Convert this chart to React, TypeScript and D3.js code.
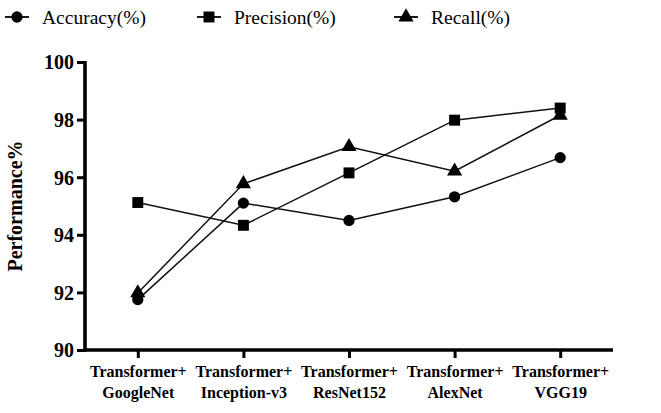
import React from 'react';
import * as d3 from 'd3';

const categories = ['GoogleNet', 'Inception-v3', 'ResNet152', 'AlexNet', 'VGG19'];
const accuracy = [91.75, 95.1, 94.5, 95.32, 96.68];
const precision = [95.12, 94.33, 96.15, 97.98, 98.4];
const recall = [91.98, 95.77, 97.06, 96.21, 98.15];
const yTicks = [90, 92, 94, 96, 98, 100];

const seriesNames = ['Accuracy(%)', 'Precision(%)', 'Recall(%)'];
const seriesShapes = [d3.symbolCircle, d3.symbolSquare, d3.symbolTriangle];
const seriesSizes = [100, 120, 100];

const font = 'Liberation Serif';

export default function App() {
    const container = React.useRef<SVGGElement>(null);

    const width = 661, height = 413;
    const margin = { top: 62, left: 85, right: 48, bottom: 63 };

    React.useEffect(() => {
        if (!container.current) return;
        const g = d3.select(container.current);
        g.selectAll('*').remove();

        const innerW = width - margin.left - margin.right;
        const innerH = height - margin.top - margin.bottom;

        const x = d3.scalePoint<string>().domain(categories).range([0, innerW]).padding(0.5);
        const y = d3.scaleLinear().domain([90, 100]).range([innerH, 0]);

        // y axis
        const yAxis = g.append('g')
            .call(d3.axisLeft(y).tickValues(yTicks).tickSize(8).tickSizeOuter(0).tickPadding(3));
        yAxis.attr('font-family', null).attr('font-size', null);
        yAxis.select('.domain').attr('stroke-width', 3.6).attr('d', `M0,${innerH + 1.8}V-1`);
        yAxis.selectAll('.tick line').attr('stroke-width', 3);
        yAxis.selectAll('.tick text')
            .attr('font-weight', 'bold').attr('font-size', 20).attr('fill', '#000').attr('dy', '0.34em');

        // x axis
        const xAxis = g.append('g')
            .attr('transform', `translate(0,${innerH})`)
            .call(d3.axisBottom(x).tickSize(8).tickSizeOuter(0).tickFormat(() => ''));
        xAxis.attr('font-family', null).attr('font-size', null);
        xAxis.select('.domain').attr('stroke-width', 3.6).attr('d', `M-1.8,0H${innerW}`);
        xAxis.selectAll('.tick line').attr('stroke-width', 3);
        xAxis.selectAll('.tick text').remove();
        xAxis.selectAll('.tick').each(function (d) {
            const t = d3.select(this).append('text')
                .attr('font-weight', 'bold').attr('font-size', 16)
                .attr('fill', '#000').attr('text-anchor', 'middle');
            t.append('tspan').attr('x', 0).attr('y', 27).text('Transformer+');
            t.append('tspan').attr('x', 0).attr('y', 48).text(d as string);
        });

        // y label
        g.append('text')
            .attr('transform', `translate(${-margin.left + 22},${innerH / 2}) rotate(-90)`)
            .attr('text-anchor', 'middle')
            .attr('font-weight', 'bold').attr('font-size', 20)
            .text('Performance%');

        const allSeries = [accuracy, precision, recall];
        const line = d3.line<number>().x((_, i) => x(categories[i])!).y(d => y(d));

        allSeries.forEach((vals, si) => {
            g.append('path')
                .attr('d', line(vals))
                .attr('fill', 'none')
                .attr('stroke', '#111')
                .attr('stroke-width', 1.5);
            g.selectAll(`.pt${si}`)
                .data(vals)
                .join('path')
                .attr('class', `pt${si}`)
                .attr('transform', (d, i) => `translate(${x(categories[i])},${y(d)})`)
                .attr('d', d3.symbol().type(seriesShapes[si]).size(seriesSizes[si])())
                .attr('fill', '#000');
        });

        // legend
        const legendX = [5, 197, 394];
        const legend = d3.select(container.current.parentNode as SVGSVGElement).append('g').attr('class', 'legend');
        seriesNames.forEach((name, si) => {
            const lg = legend.append('g').attr('transform', `translate(${legendX[si]},17)`);
            lg.append('line').attr('x1', 0).attr('x2', 24).attr('stroke', '#000').attr('stroke-width', 1.8);
            lg.append('path').attr('transform', 'translate(12,0)')
                .attr('d', d3.symbol().type(seriesShapes[si]).size(seriesSizes[si])())
                .attr('fill', '#000');
            lg.append('text').attr('x', 37).attr('y', 7)
                .attr('font-size', 19.5).attr('fill', '#000')
                .text(name);
        });

        return () => { legend.remove(); };
    }, []);

    return (
        <svg width={width} height={height}
            style={{ position: 'absolute', left: 0, top: 0, background: '#fff', fontFamily: font }}>
            <g ref={container} transform={`translate(${margin.left},${margin.top})`} />
        </svg>
    );
}
